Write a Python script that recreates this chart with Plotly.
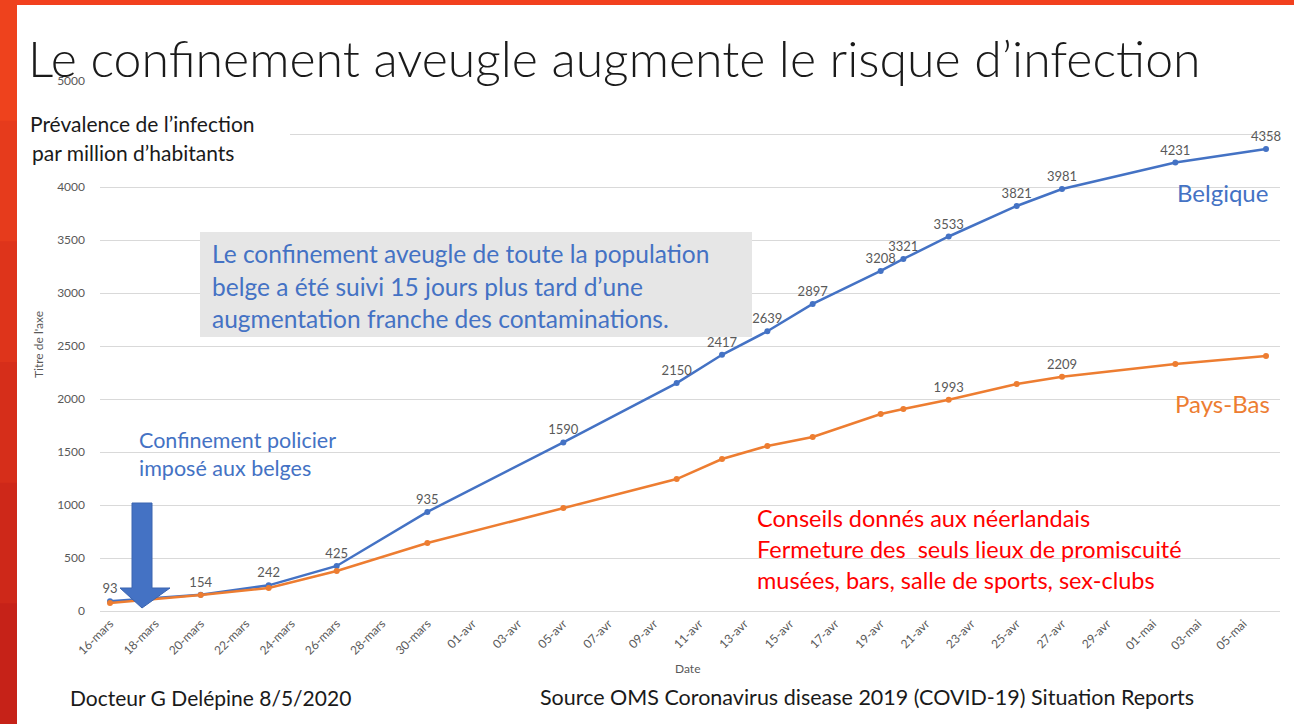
"""Prévalence COVID-19 par million d'habitants : Belgique vs Pays-Bas."""

import plotly.graph_objects as go

# ---- data -------------------------------------------------------------
belgique_dates = [
    "2020-03-16", "2020-03-20", "2020-03-23", "2020-03-26", "2020-03-30",
    "2020-04-05", "2020-04-10", "2020-04-12", "2020-04-14", "2020-04-16",
    "2020-04-19", "2020-04-20", "2020-04-22", "2020-04-25", "2020-04-27",
    "2020-05-02", "2020-05-06",
]
belgique_values = [
    93, 154, 242, 425, 935, 1590, 2150, 2417, 2639, 2897,
    3208, 3321, 3533, 3821, 3981, 4231, 4358,
]
pays_bas_values = [
    75, 150, 217, 377, 641, 972, 1245, 1434, 1557, 1642,
    1858, 1906, 1993, 2142, 2209, 2330, 2406,
]
pays_bas_labels = ["", "", "", "", "", "", "", "", "", "", "", "", "1993", "", "2209", "", ""]

tick_dates = [
    "2020-03-16", "2020-03-18", "2020-03-20", "2020-03-22", "2020-03-24",
    "2020-03-26", "2020-03-28", "2020-03-30", "2020-04-01", "2020-04-03",
    "2020-04-05", "2020-04-07", "2020-04-09", "2020-04-11", "2020-04-13",
    "2020-04-15", "2020-04-17", "2020-04-19", "2020-04-21", "2020-04-23",
    "2020-04-25", "2020-04-27", "2020-04-29", "2020-05-01", "2020-05-03",
    "2020-05-05",
]
tick_labels = [
    "16-mars", "18-mars", "20-mars", "22-mars", "24-mars", "26-mars",
    "28-mars", "30-mars", "01-avr", "03-avr", "05-avr", "07-avr", "09-avr",
    "11-avr", "13-avr", "15-avr", "17-avr", "19-avr", "21-avr", "23-avr",
    "25-avr", "27-avr", "29-avr", "01-mai", "03-mai", "05-mai",
]

BLUE = "#4472c4"
ORANGE = "#ed7d31"
FONT = "Lato"

# plot area in pixels: x 100..1280, y 81..611
L, R, T, B = 100, 1280, 81, 611


def px(x):
    return (x - L) / (R - L)


def py(y):
    return (B - y) / (B - T)


fig = go.Figure()
fig.add_trace(
    go.Scatter(
        x=belgique_dates,
        y=belgique_values,
        mode="lines+markers+text",
        name="Belgique",
        line={"color": BLUE, "width": 2.5},
        marker={"size": 6, "color": BLUE},
        text=[str(v) for v in belgique_values],
        textposition="top center",
        textfont={"family": FONT, "size": 13, "color": "#595959"},
        cliponaxis=False,
    )
)
fig.add_trace(
    go.Scatter(
        x=belgique_dates,
        y=pays_bas_values,
        mode="lines+markers+text",
        name="Pays-Bas",
        line={"color": ORANGE, "width": 2.5},
        marker={"size": 6, "color": ORANGE},
        text=pays_bas_labels,
        textposition="top center",
        textfont={"family": FONT, "size": 13, "color": "#595959"},
        cliponaxis=False,
    )
)


def note(text, x, y, size, color, anchor="left", weight=None):
    font = {"family": FONT, "size": size, "color": color}
    if weight:
        font["weight"] = weight
    fig.add_annotation(
        text=text, x=px(x), y=py(y), xref="paper", yref="paper",
        xanchor=anchor, yanchor="middle", showarrow=False, font=font, align="left",
    )


# frame of the slide: red band on top, red gradient bar on the left
shapes = [
    {"type": "rect", "xref": "paper", "yref": "paper", "x0": px(17), "x1": px(1294),
     "y0": py(5), "y1": py(0), "fillcolor": "#f2401e", "line": {"width": 0}, "layer": "above"},
]
bar_colors = ["#ee421d", "#e63b1c", "#de341b", "#d62e1a", "#ce2819", "#c62218"]
step = 724 / len(bar_colors)
for i, c in enumerate(bar_colors):
    shapes.append(
        {"type": "rect", "xref": "paper", "yref": "paper", "x0": px(0), "x1": px(17),
         "y0": py((i + 1) * step + 1), "y1": py(i * step), "fillcolor": c,
         "line": {"width": 0}, "layer": "above"}
    )
shapes += [
    # white text box behind the y-axis caption (hides the 4500 tick)
    {"type": "rect", "xref": "paper", "yref": "paper", "x0": px(20), "x1": px(290),
     "y0": py(168), "y1": py(104), "fillcolor": "white", "line": {"width": 0}, "layer": "above"},
    # grey text box
    {"type": "rect", "xref": "paper", "yref": "paper", "x0": px(200), "x1": px(752),
     "y0": py(337), "y1": py(232), "fillcolor": "#e6e6e6", "line": {"width": 0}, "layer": "above"},
    # block arrow
    {"type": "path", "xref": "paper", "yref": "paper", "fillcolor": BLUE,
     "line": {"color": "#3a64b0", "width": 1}, "layer": "above",
     "path": (
         f"M {px(132)} {py(503)} L {px(152)} {py(503)} L {px(152)} {py(588)} "
         f"L {px(170)} {py(588)} L {px(142)} {py(608)} L {px(120)} {py(588)} "
         f"L {px(132)} {py(588)} Z"
     )},
]

fig.update_layout(
    width=1294,
    height=724,
    margin={"l": L, "r": 1294 - R, "t": T, "b": 724 - B},
    paper_bgcolor="white",
    plot_bgcolor="white",
    showlegend=False,
    shapes=shapes,
    font={"family": FONT, "color": "#595959"},
)
fig.update_xaxes(
    type="date",
    range=["2020-03-15 13:24", "2020-05-06 14:48"],
    tickvals=tick_dates,
    ticktext=tick_labels,
    tickangle=-45,
    tickfont={"family": FONT, "size": 12, "color": "#595959"},
    showgrid=False,
    showline=True,
    linecolor="#d9d9d9",
    zeroline=False,
)
fig.update_yaxes(
    range=[0, 5000],
    dtick=500,
    tickfont={"family": FONT, "size": 12, "color": "#595959"},
    gridcolor="#d9d9d9",
    zeroline=False,
    ticklabelstandoff=14,
)

note("Le confinement aveugle augmente le risque d’infection", 26, 58, 50, "#1a1a1a", weight=300)
note("Prévalence de l’infection", 28, 123, 21, "#1a1a1a")
note("par million d’habitants", 30, 152, 21, "#1a1a1a")
note("Titre de l'axe", 38, 345, 12, "#595959", anchor="center")
fig.layout.annotations[-1].textangle = -90
note("Date", 687, 668, 12, "#595959", anchor="center")

note("Le confinement aveugle de toute la population", 210, 253, 24.5, BLUE)
note("belge a été suivi 15 jours plus tard d’une", 210, 286, 24.5, BLUE)
note("augmentation franche des contaminations.", 210, 318, 24.5, BLUE)

note("Confinement policier", 137, 440, 21.5, BLUE)
note("imposé aux belges", 137, 468, 21.5, BLUE)

note("Belgique", 1270, 193, 24, BLUE, anchor="right")
note("Pays-Bas", 1272, 403, 24, ORANGE, anchor="right")

note("Conseils donnés aux néerlandais", 755, 518, 23.5, "#ff0000")
note("Fermeture des&nbsp; seuls lieux de promiscuité", 755, 549, 23.5, "#ff0000")
note("musées, bars, salle de sports, sex-clubs", 755, 580, 23.5, "#ff0000")

note("Docteur G Delépine 8/5/2020", 68, 697, 21, "#1a1a1a")
note("Source OMS Coronavirus disease 2019 (COVID-19) Situation Reports", 538, 697, 21.5, "#1a1a1a")

fig.write_html(
    "out.html",
    config={"displayModeBar": False},
    post_script="document.body.style.margin = '0';",
)
